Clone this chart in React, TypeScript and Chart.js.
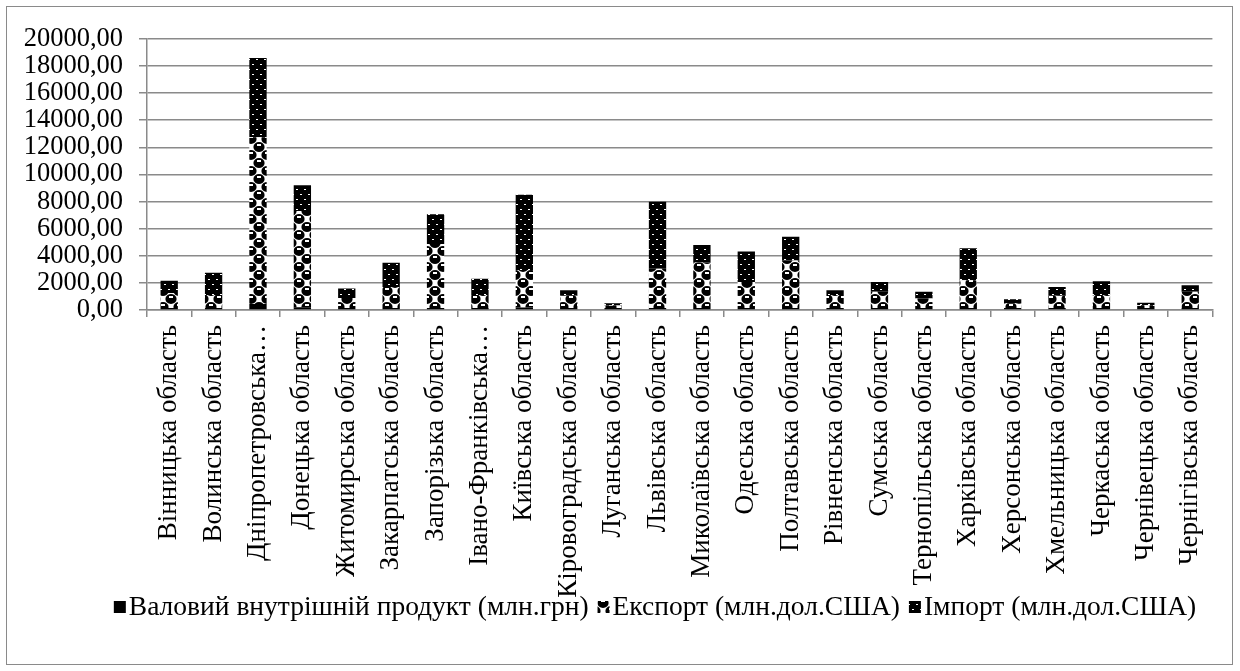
import React, { useEffect, useRef } from "react";
import { Chart, registerables } from "chart.js";

Chart.register(...registerables);

const categories = [
  "Вінницька область",
  "Волинська область",
  "Дніпропетровська область",
  "Донецька область",
  "Житомирська область",
  "Закарпатська область",
  "Запорізька область",
  "Івано-Франківська область",
  "Київська область",
  "Кіровоградська область",
  "Луганська область",
  "Львівська область",
  "Миколаївська область",
  "Одеська область",
  "Полтавська область",
  "Рівненська область",
  "Сумська область",
  "Тернопільська область",
  "Харківська область",
  "Херсонська область",
  "Хмельницька область",
  "Черкаська область",
  "Чернівецька область",
  "Чернігівська область",
];

const gdpValues = [150, 150, 450, 200, 150, 150, 150, 150, 180, 150, 150, 150, 150, 150, 150, 150, 150, 150, 150, 150, 150, 150, 150, 150];
const exportValues = [1100, 950, 12300, 7100, 730, 1550, 4720, 950, 2770, 900, 180, 2890, 3350, 1920, 3500, 950, 1190, 700, 2040, 350, 900, 950, 200, 1190];
const importValues = [900, 1650, 5850, 1900, 700, 1780, 2190, 1210, 5550, 410, 160, 4940, 1290, 2240, 1750, 360, 730, 490, 2360, 300, 650, 1020, 180, 480];

const seriesNames = [
  "Валовий внутрішній продукт (млн.грн)",
  "Експорт (млн.дол.США)",
  "Імпорт (млн.дол.США)",
];

const yMax = 20000;
const yStep = 2000;

const FAMILY = "Liberation Serif, DejaVu Serif, serif";
const Y_FONT = 26.5;
const X_FONT = 27;
const LEGEND_FONT = 27.5;

function makeExportPattern(ctx: CanvasRenderingContext2D) {
  const c = document.createElement("canvas");
  c.width = 16;
  c.height = 16;
  const g = c.getContext("2d")!;
  g.fillStyle = "#fff";
  g.fillRect(0, 0, 16, 16);
  g.fillStyle = "#000";
  const blob = (x: number, y: number) => {
    g.beginPath();
    g.ellipse(x + 4, y + 4, 5.6, 5.0, 0, 0, Math.PI * 2);
    g.fill();
  };
  for (const [x, y] of [[0, 0], [8, 8], [16, 16], [-8, 8], [8, -8], [16, 0], [0, 16], [-8, -8], [8, 24], [24, 8]]) blob(x, y);
  g.fillStyle = "#fff";
  g.fillRect(2, 1, 4, 2);
  g.fillRect(10, 9, 4, 2);
  return ctx.createPattern(c, "repeat")!;
}

function makeImportPattern(ctx: CanvasRenderingContext2D) {
  const c = document.createElement("canvas");
  c.width = 8;
  c.height = 10;
  const g = c.getContext("2d")!;
  g.fillStyle = "#000";
  g.fillRect(0, 0, 8, 10);
  g.fillStyle = "#fff";
  g.fillRect(1, 2, 2, 1);
  g.fillRect(5, 7, 2, 1);
  return ctx.createPattern(c, "repeat")!;
}

// Compact legend (box immediately before text), drawn from the chart's datasets
const compactLegend = {
  id: "compactLegend",
  afterDraw(chart: any) {
    const ctx: CanvasRenderingContext2D = chart.ctx;
    const ds = chart.data.datasets;
    const box = 12;
    const gapBoxText = 3;
    const gapItems = 9;
    ctx.save();
    ctx.font = `${LEGEND_FONT}px ${FAMILY}`;
    ctx.textBaseline = "middle";
    ctx.textAlign = "left";
    const widths = ds.map((d: any) => box + gapBoxText + ctx.measureText(d.label).width);
    const total = widths.reduce((a: number, b: number) => a + b, 0) + gapItems * (ds.length - 1);
    const cx = 648;
    const cy = 601;
    let x = cx - total / 2;
    ds.forEach((d: any, i: number) => {
      ctx.fillStyle = d.backgroundColor;
      ctx.fillRect(x, cy - box / 2 - 1, box, box);
      ctx.fillStyle = "#000";
      ctx.fillText(d.label, x + box + gapBoxText, cy);
      x += widths[i] + gapItems;
    });
    ctx.restore();
  },
};

export default function App() {
  const ref = useRef<HTMLCanvasElement | null>(null);

  useEffect(() => {
    document.body.style.margin = "0";
    let chart: Chart | null = null;
    let cancelled = false;
    const build = () => {
      if (cancelled) return;
      const canvas = ref.current!;
      const ctx = canvas.getContext("2d")!;
      const expPat = makeExportPattern(ctx);
      const impPat = makeImportPattern(ctx);

      chart = new Chart(canvas, {
        type: "bar",
        data: {
          labels: categories,
          datasets: [
            { label: seriesNames[0], data: gdpValues, backgroundColor: "#000" },
            { label: seriesNames[1], data: exportValues, backgroundColor: expPat as any },
            { label: seriesNames[2], data: importValues, backgroundColor: impPat as any },
          ],
        },
        plugins: [compactLegend],
        options: {
          animation: false,
          responsive: false,
          maintainAspectRatio: false,
          font: { family: FAMILY },
          datasets: { bar: { categoryPercentage: 1, barPercentage: 0.39 } },
          layout: { padding: { top: 28, right: 18, bottom: 43, left: 0 } },
          plugins: {
            tooltip: { enabled: false },
            legend: { display: false },
          },
          scales: {
            x: {
              stacked: true,
              offset: true,
              border: { color: "#8a8a8a", width: 1.5 },
              grid: {
                offset: true,
                drawOnChartArea: false,
                drawTicks: true,
                tickLength: 7,
                color: "#8a8a8a",
                lineWidth: 1.5,
              },
              ticks: {
                font: { family: FAMILY, size: X_FONT },
                color: "#000",
                autoSkip: false,
                maxRotation: 90,
                minRotation: 90,
                padding: 8,
                callback: (v: any, i: number) => {
                  const s = categories[i];
                  return s.length > 23 ? s.split(" ")[0] + "…" : s;
                },
              },
              afterFit: (s: any) => {
                s.height = 310;
              },
            },
            y: {
              stacked: true,
              min: 0,
              max: yMax,
              border: { color: "#8a8a8a", width: 1.5 },
              grid: { color: "#8a8a8a", lineWidth: 1.5, tickLength: 8 },
              ticks: {
                stepSize: yStep,
                autoSkip: false,
                font: { family: FAMILY, size: Y_FONT },
                color: "#000",
                padding: 16,
                callback: (v: any) => Number(v).toFixed(2).replace(".", ","),
              },
              afterFit: (s: any) => {
                s.width = 140;
              },
            },
          },
        },
      });
    };
    const fonts = (document as any).fonts;
    if (fonts && fonts.load) {
      fonts
        .load(`26px Liberation Serif`, "Вінницька 0123")
        .catch(() => {})
        .then(() => fonts.ready)
        .then(build);
    } else build();
    return () => {
      cancelled = true;
      if (chart) chart.destroy();
    };
  }, []);

  return (
    <div style={{ position: "relative", width: 1240, height: 671, fontFamily: FAMILY }}>
      <div
        style={{
          position: "absolute",
          left: 6,
          top: 6,
          width: 1227,
          height: 659,
          border: "1.5px solid #8a8a8a",
          boxSizing: "border-box",
          background: "#fff",
        }}
      >
        <canvas ref={ref} width={1224} height={656} style={{ display: "block" }} />
      </div>
    </div>
  );
}
